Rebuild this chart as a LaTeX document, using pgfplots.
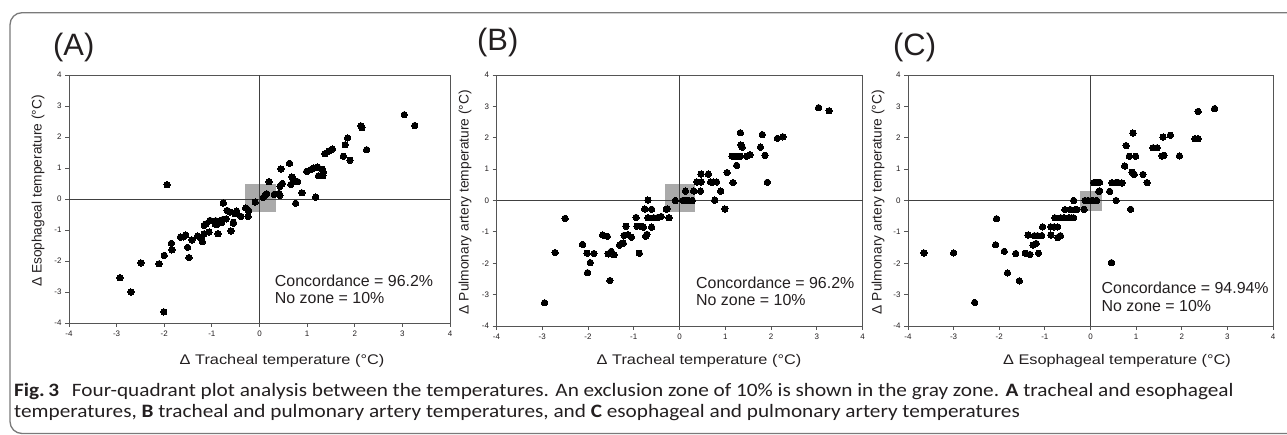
\documentclass[border=0pt]{standalone}
\usepackage{fontspec}
\setmainfont{Liberation Sans}
\newfontfamily\capfont{Carlito}
\usepackage{pgfplots}
\pgfplotsset{compat=1.18}

\definecolor{axgray}{HTML}{555555}
\definecolor{zerogray}{HTML}{404040}
\definecolor{boxgray}{HTML}{AAAAAA}
\definecolor{framegray}{HTML}{7A7A7A}
\definecolor{txt}{HTML}{231F20}

\pgfplotsset{quad/.style={
    scale only axis,
    xmin=-4, xmax=4, ymin=-4, ymax=4,
    xtick={-4,...,4}, ytick={-4,...,4},
    tick pos=left, tick align=outside, major tick length=4bp,
    axis line style={draw=axgray, line width=0.9bp},
    every tick/.style={draw=axgray, line width=0.8bp},
    ticklabel style={font=\fontsize{8}{9}\selectfont, text=txt},
    /pgf/number format/assume math mode=true,
    clip=false,
  },
  dots/.style={only marks, mark=*, mark size=3.2bp, mark options={fill=black, draw=black, line width=0pt}},
}
\tikzset{note/.style={anchor=base west, font=\fontsize{16}{18}\selectfont, text=txt, inner sep=0pt},
         xt/.style={text=txt, inner sep=0pt, font=\fontsize{14}{16}\selectfont},
         yt/.style={text=txt, inner sep=0pt, rotate=90, font=\fontsize{13.8}{16}\selectfont},
         lab/.style={anchor=west, inner sep=0pt, text=txt, font=\fontsize{31}{34}\selectfont},
         captext/.style={anchor=base west, inner sep=0pt, text=txt, font=\capfont\fontsize{19}{22}\selectfont}}

\begin{document}
\begin{tikzpicture}
\useasboundingbox (0bp,0bp) rectangle (1287bp,435bp);

% frame round the figure and caption
\draw[framegray, line width=1.3bp, rounded corners=12bp]
  (1320bp,422.3bp) -- (10bp,422.3bp) -- (10bp,1.5bp) -- (1320bp,1.5bp);

% (A) tracheal vs esophageal
\begin{axis}[quad, at={(69bp,112bp)}, anchor=south west, width=381bp, height=248bp]
\fill[boxgray] (axis cs:-0.30,-0.41) rectangle (axis cs:0.35,0.49);
\draw[zerogray, line width=0.8bp] (axis cs:-4,0) -- (axis cs:4,0);
\draw[zerogray, line width=0.8bp] (axis cs:0,-4) -- (axis cs:0,4);
\addplot[dots] coordinates {
(-2.93,-2.54) (-2.70,-3.00) (-2.01,-3.64) (-2.49,-2.06) (-2.11,-2.09)
(-2.00,-1.82) (-1.84,-1.64) (-1.85,-1.43) (-1.94,0.46) (-1.48,-1.89)
(-1.51,-1.56) (-1.66,-1.23) (-1.55,-1.16) (-1.60,-1.22) (-1.42,-1.32)
(-1.30,-1.19) (-1.22,-1.27) (-1.20,-1.38) (-1.16,-1.12) (-1.16,-0.85)
(-1.06,-1.07) (-1.04,-0.69) (-1.12,-0.80) (-0.93,-0.80) (-0.90,-0.83)
(-0.92,-0.70) (-0.87,-1.12) (-0.80,-0.76) (-0.76,-0.13) (-0.77,-0.66)
(-0.70,-0.64) (-0.68,-0.37) (-0.62,-0.42) (-0.60,-1.03) (-0.55,-0.78)
(-0.52,-0.47) (-0.48,-0.39) (-0.39,-0.56) (-0.29,-0.29) (-0.23,-0.37)
(-0.24,-0.56) (-0.09,-0.10) (0.08,0.05) (0.12,0.12) (0.15,0.17)
(0.20,0.56) (0.31,0.15) (0.41,0.18) (0.43,0.12) (0.43,0.41)
(0.48,0.50) (0.45,0.97) (0.63,1.15) (0.68,0.71) (0.72,0.60)
(0.80,0.56) (0.66,0.47) (0.89,0.20) (0.76,-0.14) (0.99,0.89)
(1.08,0.95) (1.14,1.00) (1.22,1.03) (1.32,0.96) (1.34,0.87)
(1.24,0.75) (1.33,0.75) (1.18,0.06) (1.37,1.46) (1.46,1.55)
(1.53,1.61) (1.76,1.38) (1.90,1.25) (1.80,1.75) (1.85,1.97)
(2.13,2.36) (2.15,2.30) (2.25,1.59) (3.04,2.72) (3.26,2.37)
(-0.84,-0.71) (-0.55,-0.75)
};
\node[note] at (axis cs:0.32,-2.83) {Concordance = 96.2\%};
\node[note] at (axis cs:0.32,-3.38) {No zone = 10\%};
\end{axis}

% (B) tracheal vs pulmonary artery
\begin{axis}[quad, at={(496.5bp,109bp)}, anchor=south west, width=366bp, height=251bp]
\fill[boxgray] (axis cs:-0.31,-0.36) rectangle (axis cs:0.33,0.52);
\draw[zerogray, line width=0.8bp] (axis cs:-4,0) -- (axis cs:4,0);
\draw[zerogray, line width=0.8bp] (axis cs:0,-4) -- (axis cs:0,4);
\addplot[dots] coordinates {
(-2.95,-3.26) (-2.72,-1.66) (-2.50,-0.57) (-2.12,-1.40) (-2.02,-1.68)
(-1.95,-1.98) (-2.01,-2.30) (-1.87,-1.69) (-1.68,-1.10) (-1.58,-1.14)
(-1.52,-2.55) (-1.56,-1.70) (-1.49,-1.62) (-1.43,-1.73) (-1.31,-1.42)
(-1.23,-1.36) (-1.21,-1.11) (-1.17,-0.82) (-1.13,-1.09) (-1.05,-1.17)
(-0.95,-0.54) (-0.93,-0.82) (-0.88,-1.68) (-0.86,-0.82) (-0.79,-0.85)
(-0.76,-0.27) (-0.74,-1.14) (-0.71,-1.08) (-0.69,0.01) (-0.69,-0.55)
(-0.61,-0.28) (-0.61,-0.85) (-0.56,-0.55) (-0.49,-0.55) (-0.40,-0.51)
(-0.27,-0.27) (-0.29,-0.28) (-0.23,-0.55) (-0.09,0.00) (0.07,0.00)
(0.13,0.00) (0.20,0.00) (0.28,0.00) (0.13,0.30) (0.31,0.30)
(0.38,0.59) (0.47,0.59) (0.47,0.84) (0.63,0.84) (0.46,0.30)
(0.68,0.59) (0.74,0.59) (0.81,0.59) (0.77,0.01) (0.90,0.30)
(0.99,-0.27) (1.04,0.89) (1.17,0.57) (1.25,1.12) (1.15,1.41)
(1.22,1.41) (1.29,1.41) (1.33,1.41) (1.47,1.41) (1.54,1.46)
(1.33,2.16) (1.34,1.77) (1.37,1.70) (1.77,1.70) (1.81,2.10)
(1.87,1.44) (1.92,0.58) (2.14,1.98) (2.26,2.03) (3.04,2.96)
(3.27,2.86)
};
\node[note] at (axis cs:0.36,-2.81) {Concordance = 96.2\%};
\node[note] at (axis cs:0.36,-3.36) {No zone = 10\%};
\end{axis}

% (C) esophageal vs pulmonary artery
\begin{axis}[quad, at={(908bp,109bp)}, anchor=south west, width=365bp, height=251bp]
\fill[boxgray] (axis cs:-0.22,-0.32) rectangle (axis cs:0.25,0.31);
\draw[zerogray, line width=0.8bp] (axis cs:-4,0) -- (axis cs:4,0);
\draw[zerogray, line width=0.8bp] (axis cs:0,-4) -- (axis cs:0,4);
\addplot[dots] coordinates {
(-3.65,-1.67) (-3.00,-1.67) (-2.54,-3.25) (-2.06,-0.58) (-2.08,-1.41)
(-1.89,-1.62) (-1.82,-2.31) (-1.64,-1.69) (-1.56,-2.56) (-1.43,-1.68)
(-1.33,-1.72) (-1.37,-1.10) (-1.23,-1.12) (-1.26,-1.42) (-1.19,-1.37)
(-1.14,-1.68) (-1.16,-1.12) (-1.07,-1.12) (-1.05,-0.84) (-0.87,-1.10)
(-0.87,-0.84) (-0.80,-0.84) (-0.72,-0.84) (-0.72,-1.18) (-0.66,-1.12)
(-0.78,-0.55) (-0.65,-0.55) (-0.58,-0.55) (-0.56,-0.29) (-0.47,-0.55)
(-0.42,-0.55) (-0.37,-0.55) (-0.44,-0.29) (-0.34,-0.29) (-0.30,-0.29)
(-0.37,0.00) (-0.14,-0.28) (-0.12,0.00) (-0.05,0.00) (0.04,0.00)
(0.13,0.00) (0.07,0.57) (0.12,0.58) (0.20,0.58) (0.18,0.29)
(0.20,0.31) (0.42,0.29) (0.47,0.57) (0.55,0.57) (0.61,0.57)
(0.69,0.56) (0.56,0.00) (0.46,-1.98) (0.88,-0.28) (0.75,1.10)
(0.78,1.75) (0.85,1.41) (0.99,1.41) (0.91,0.90) (0.96,0.83)
(0.93,2.15) (1.15,0.83) (1.24,0.57) (1.37,1.68) (1.46,1.68)
(1.57,1.42) (1.61,1.44) (1.59,2.02) (1.75,2.08) (1.95,1.42)
(2.29,1.97) (2.36,1.97) (2.36,2.84) (2.72,2.93)
};
\node[note] at (axis cs:0.24,-2.98) {Concordance = 94.94\%};
\node[note] at (axis cs:0.24,-3.53) {No zone = 10\%};
\end{axis}

% panel letters
\node[lab] at (53bp,387bp) {(A)};
\node[lab] at (477bp,392bp) {(B)};
\node[lab] at (893bp,387bp) {(C)};

% axis titles
\node[xt] at (282bp,74bp) {\scalebox{1.17}[1]{Δ Tracheal temperature (°C)}};
\node[xt] at (699bp,74bp) {\scalebox{1.17}[1]{Δ Tracheal temperature (°C)}};
\node[xt] at (1117bp,74bp) {\scalebox{1.17}[1]{Δ Esophageal temperature (°C)}};
\node[yt] at (38bp,244bp) {Δ Esophageal temperature (°C)};
\node[yt] at (465bp,233bp) {Δ Pulmonary artery temperature (°C)};
\node[yt] at (878bp,233bp) {Δ Pulmonary artery temperature (°C)};

% caption
\node[captext] at (14bp,39bp)
  {\scalebox{1.122}[1]{\textbf{Fig.\,3}\hspace{0.6em}Four-quadrant plot analysis between the temperatures. An exclusion zone of 10\% is shown in the gray zone. \textbf{A} tracheal and esophageal}};
\node[captext] at (14bp,17.5bp)
  {\scalebox{1.122}[1]{temperatures, \textbf{B} tracheal and pulmonary artery temperatures, and \textbf{C} esophageal and pulmonary artery temperatures}};
\end{tikzpicture}
\end{document}
